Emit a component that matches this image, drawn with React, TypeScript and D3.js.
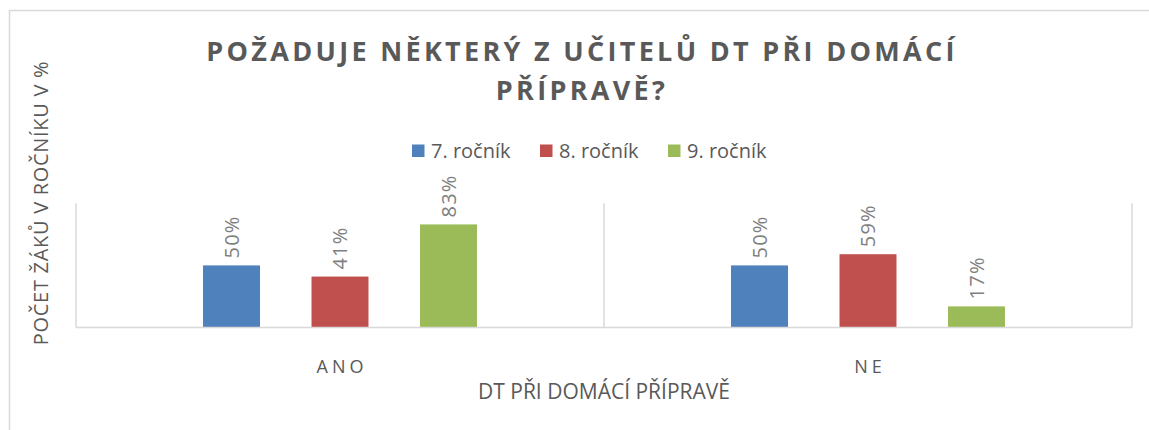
import React from "react";
import * as d3 from "d3";

const categories: string[] = ["ANO", "NE"];
const seriesNames: string[] = ["7. ročník", "8. ročník", "9. ročník"];
const seriesColors: string[] = ["#4f81bd", "#c0504d", "#9bbb59"];
const grade7: number[] = [0.5, 0.5];
const grade8: number[] = [0.41, 0.59];
const grade9: number[] = [0.83, 0.17];
const yDomain: number[] = [0, 1];

const titleLines: string[] = ["POŽADUJE NĚKTERÝ Z UČITELŮ DT PŘI DOMÁCÍ", "PŘÍPRAVĚ?"];
const xTitle = "DT PŘI DOMÁCÍ PŘÍPRAVĚ";
const yTitle = "POČET ŽÁKŮ V ROČNÍKU V %";

const W = 1149;
const H = 430;
const plot = { left: 76, right: 1132, top: 203.3, bottom: 327.5 };
const FONT = "'Open Sans', 'Noto Sans', sans-serif";

export default function App() {
  const values = [grade7, grade8, grade9];
  const x = d3.scaleBand<string>().domain(categories).range([plot.left, plot.right]).padding(0);
  const y = d3.scaleLinear().domain(yDomain).range([plot.bottom, plot.top]);
  const groupStep = 108.5;
  const inner = d3
    .scaleBand<string>()
    .domain(seriesNames)
    .range([-1.5 * groupStep, 1.5 * groupStep])
    .paddingInner(0.475)
    .paddingOuter(0.2375);
  const fmt = d3.format(".0%");

  const legendX = [412, 540, 668];

  return (
    <svg
      width={W}
      height={H}
      style={{ position: "absolute", left: 0, top: 0, background: "#fff" }}
      fontFamily={FONT}
    >
      <rect x={9.5} y={10.5} width={1300} height={600} fill="#fff" stroke="#d9d9d9" strokeWidth={1.5} />

      {titleLines.map((t, i) => (
        <text
          key={i}
          x={582}
          y={61 + i * 39}
          textAnchor="middle"
          fontSize={27}
          fontWeight={700}
          fill="#595959"
          letterSpacing={3.3}
        >
          {t}
        </text>
      ))}

      {seriesNames.map((s, i) => (
        <g key={s} transform={`translate(${legendX[i]},0)`}>
          <rect x={0} y={144.5} width={12.5} height={12.5} fill={seriesColors[i]} />
          <text x={19} y={158} fontSize={20} fill="#595959">
            {s}
          </text>
        </g>
      ))}

      {/* vertical category dividers */}
      {[plot.left, ...categories.map((c) => (x(c) as number) + x.bandwidth())].map((vx, i) => (
        <line key={i} x1={vx} x2={vx} y1={plot.top} y2={plot.bottom} stroke="#d9d9d9" strokeWidth={1.5} />
      ))}

      {categories.map((c, ci) => {
        const cx = (x(c) as number) + x.bandwidth() / 2;
        return (
          <g key={c}>
            {seriesNames.map((s, si) => {
              const v = values[si][ci];
              const bx = cx + (inner(s) as number);
              const by = y(v);
              const bw = inner.bandwidth();
              const lx = bx + bw / 2;
              const ly = by - 7;
              return (
                <g key={s}>
                  <rect x={bx} y={by} width={bw} height={y(0) - by} fill={seriesColors[si]} />
                  <text
                    transform={`translate(${lx},${ly}) rotate(-90)`}
                    dy="0.35em"
                    textAnchor="start"
                    fontSize={20}
                    fill="#7f7f7f"
                    letterSpacing={1.2}
                  >
                    {fmt(v)}
                  </text>
                </g>
              );
            })}
            <text x={cx + 2} y={373} textAnchor="middle" fontSize={18} fill="#595959" letterSpacing={4}>
              {c}
            </text>
          </g>
        );
      })}

      <line x1={plot.left} x2={plot.right} y1={plot.bottom} y2={plot.bottom} stroke="#d9d9d9" strokeWidth={1.5} />

      <text x={604} y={399} textAnchor="middle" fontSize={21} fill="#595959">
        {xTitle}
      </text>

      <text
        transform={`translate(48,${203}) rotate(-90)`}
        textAnchor="middle"
        fontSize={20}
        fill="#595959"
        letterSpacing={0.7}
      >
        {yTitle}
      </text>
    </svg>
  );
}
